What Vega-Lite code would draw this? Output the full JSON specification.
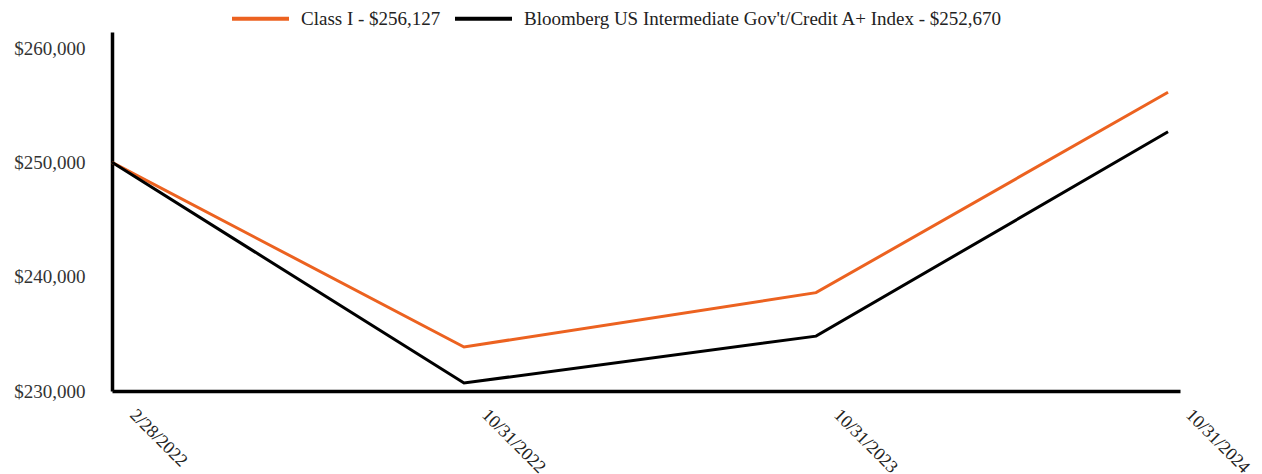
{
  "$schema": "https://vega.github.io/schema/vega-lite/v6.json",
  "autosize": "none",
  "width": 1068,
  "height": 359,
  "padding": {"left": 112, "top": 32, "right": 82, "bottom": 83},
  "background": "white",
  "config": {"view": {"stroke": null}},
  "data": {"values": [
    {"date": "2/28/2022", "series": "Class I - $256,127", "value": 250000},
    {"date": "10/31/2022", "series": "Class I - $256,127", "value": 233850},
    {"date": "10/31/2023", "series": "Class I - $256,127", "value": 238600},
    {"date": "10/31/2024", "series": "Class I - $256,127", "value": 256127},
    {"date": "2/28/2022", "series": "Bloomberg US Intermediate Gov't/Credit A+ Index - $252,670", "value": 250000},
    {"date": "10/31/2022", "series": "Bloomberg US Intermediate Gov't/Credit A+ Index - $252,670", "value": 230700},
    {"date": "10/31/2023", "series": "Bloomberg US Intermediate Gov't/Credit A+ Index - $252,670", "value": 234800},
    {"date": "10/31/2024", "series": "Bloomberg US Intermediate Gov't/Credit A+ Index - $252,670", "value": 252670}
  ]},
  "mark": {"type": "line", "strokeWidth": 3},
  "encoding": {
    "x": {
      "field": "date", "type": "ordinal", "sort": null,
      "scale": {"type": "point", "padding": 0.017, "align": 0},
      "axis": {
        "title": null, "domainColor": "black", "domainWidth": 3.5, "ticks": false,
        "labelAngle": 45, "labelAlign": "left", "labelBaseline": "middle",
        "labelPadding": 21, "labelOffset": 20,
        "labelFont": "Liberation Serif", "labelFontSize": 18, "labelColor": "#222", "grid": false
      }
    },
    "y": {
      "field": "value", "type": "quantitative",
      "scale": {"domain": [230000, 261400], "nice": false, "zero": false},
      "axis": {
        "title": null, "values": [230000, 240000, 250000, 260000], "format": "$,.0f",
        "domainColor": "black", "domainWidth": 3.5, "ticks": false, "grid": false,
        "labelPadding": 27, "labelFont": "Liberation Serif", "labelFontSize": 19, "labelColor": "#333"
      }
    },
    "color": {
      "field": "series", "type": "nominal",
      "scale": {
        "domain": ["Class I - $256,127", "Bloomberg US Intermediate Gov't/Credit A+ Index - $252,670"],
        "range": ["#ec6220", "#000000"]
      },
      "legend": {
        "title": null, "orient": "none", "direction": "horizontal", "columns": 2,
        "legendX": 118, "legendY": -44,
        "symbolType": "stroke", "symbolStrokeWidth": 4, "symbolSize": 3249,
        "labelFont": "Liberation Serif", "labelFontSize": 19, "labelColor": "#222",
        "labelOffset": 10, "columnPadding": 6, "labelLimit": 600
      }
    }
  }
}
